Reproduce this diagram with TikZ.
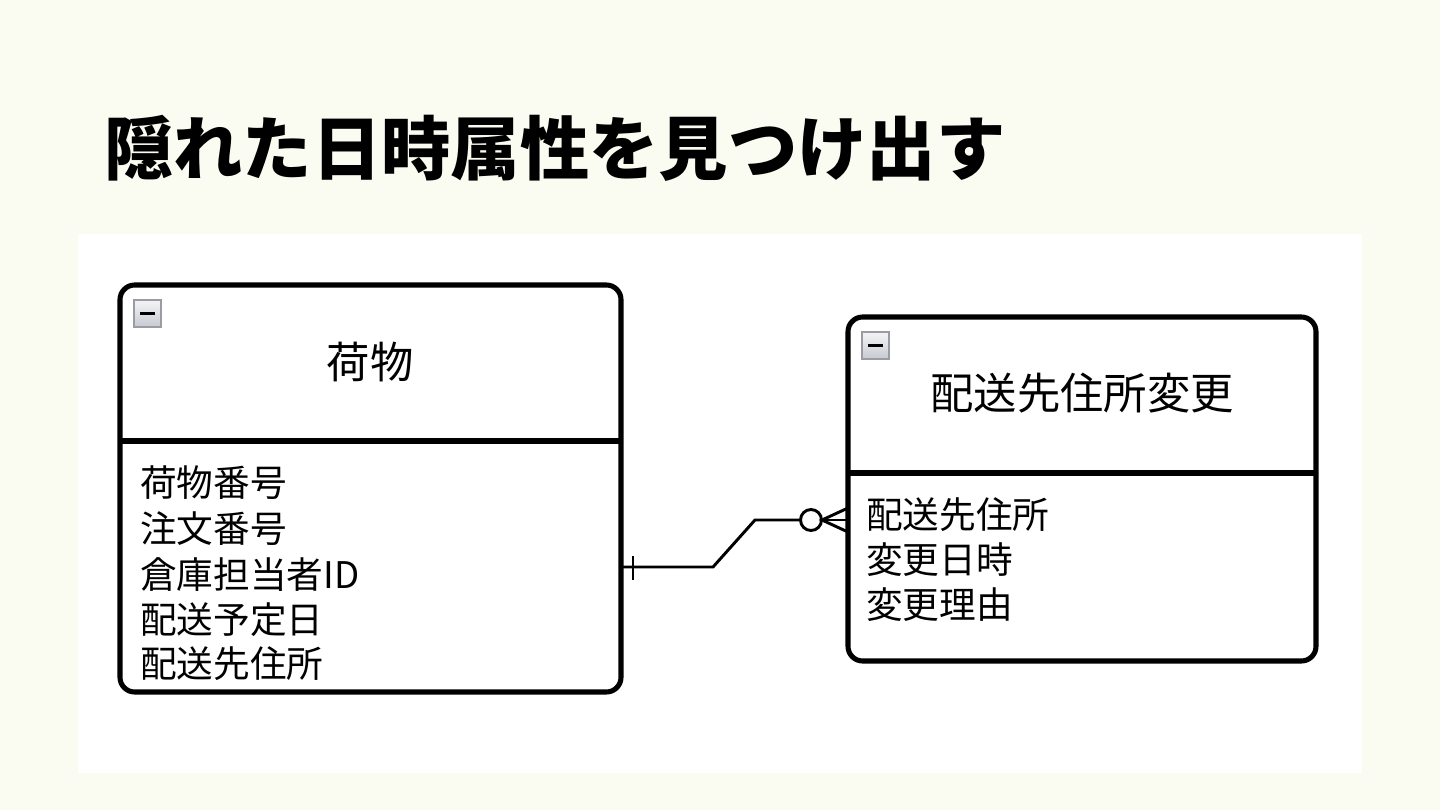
\documentclass[tikz,border=0pt]{standalone}
\usepackage{fontspec}
\setmainfont{Noto Sans CJK JP}
\newfontfamily\cjk{Noto Sans CJK JP}
\usetikzlibrary{positioning}
\definecolor{bgc}{HTML}{FAFCF2}
\definecolor{iconfill}{HTML}{C8CAD2}
\definecolor{iconedge}{HTML}{9A9CA4}
\tikzset{
  entbox/.style={draw=black, line width=3.8pt, rounded corners=11pt, fill=white},
  divider/.style={line width=3.8pt},
  ttl/.style={font=\cjk\fontsize{32.5}{36}\selectfont, anchor=center},
  attr/.style={font=\cjk\fontsize{27.5}{34}\selectfont, anchor=west, inner sep=0pt},
  icon/.style={draw=iconedge, line width=1.2pt, top color=white!80!iconfill, bottom color=iconfill, minimum size=20pt, inner sep=0pt},
  conn/.style={line width=2.2pt, line join=miter},
}
\begin{document}
\begin{tikzpicture}[x=0.75pt,y=-0.75pt]
\useasboundingbox (0,0) rectangle (1440,810);
\fill[bgc] (0,0) rectangle (1440,810);
\fill[white] (78,234) rectangle (1362,773);
\node[anchor=west, inner sep=0pt, font=\cjk\bfseries\fontsize{52}{60}\selectfont] (title) at (104,148) {隠れた日時属性を見つけ出す};
% entity 1
\draw[entbox] (120,285) rectangle (621,692);
\draw[divider] (120,441) -- (621,441);
\node[icon] (ic1) at (147.5,313.5) {};
\draw[line width=2.2pt] (140,313.5) -- (155,313.5);
\node[ttl] (e1t) at (370,362) {荷物};
\node[attr] (a1) at (140,483) {荷物番号};
\node[attr] (a2) at (140,529) {注文番号};
\node[attr] (a3) at (140,575) {倉庫担当者ID};
\node[attr] (a4) at (140,620) {配送予定日};
\node[attr] (a5) at (140,664) {配送先住所};
% entity 2
\draw[entbox] (848,317) rectangle (1316,661);
\draw[divider] (848,473) -- (1316,473);
\node[icon] (ic2) at (875.5,345.5) {};
\draw[line width=2.2pt] (868,345.5) -- (883,345.5);
\node[ttl] (e2t) at (1082,393) {配送先住所変更};
\node[attr] (b1) at (866,515) {配送先住所};
\node[attr] (b2) at (866,560) {変更日時};
\node[attr] (b3) at (866,605) {変更理由};
% connector
\coordinate (p1) at (621,567);
\coordinate (p2) at (713,567);
\coordinate (p3) at (755,520);
\coordinate (p4) at (848,520);
\draw[conn] (p1) -- (p2) -- (p3) -- (800.5,520);
\draw[conn] (633,556) -- (633,580);
\draw[conn] (811,520) circle (10.5);
\draw[conn] (848,508) -- (822,520) -- (848,532);
\draw[conn] (822,520) -- (p4);
\end{tikzpicture}
\end{document}
